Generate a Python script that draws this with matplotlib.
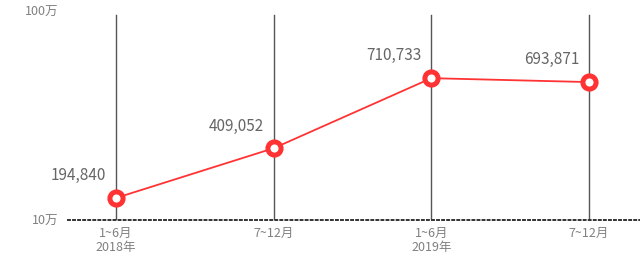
#!/usr/bin/env python3
"""Half-yearly counts 2018-2019, red ring markers on a light frame."""

import matplotlib

matplotlib.use("Agg")
import matplotlib.pyplot as plt
from matplotlib.ticker import FixedLocator

PERIODS = ["1~6月\n2018年", "7~12月", "1~6月\n2019年", "7~12月"]
VALUES = [194840, 409052, 710733, 693871]
Y_TICKS = [100000, 1000000]
Y_TICK_LABELS = ["10万", "100万"]

RED = "#ff3333"
GREY_TEXT = "#808080"

plt.rcParams["font.family"] = ["Noto Sans CJK JP", "DejaVu Sans"]

fig = plt.figure(figsize=(6.4, 2.64), dpi=100)
W, H = 640, 264
# axes box in pixels: left 68, right 640, top 11, bottom 220
ax = fig.add_axes([68 / W, (H - 220) / H, (640 - 68) / W, (220 - 11) / H])

x = list(range(len(VALUES)))

ax.set_xlim(-0.304, 3.323)
ax.set_ylim(Y_TICKS[0], Y_TICKS[1])

# vertical guide lines
for xi in x:
    ax.axvline(xi, ymin=0, ymax=0.98, color="#555555", linewidth=1.0, zorder=1)

ax.plot(
    x,
    VALUES,
    color=RED,
    linewidth=1.3,
    marker="o",
    markersize=9.5,
    markerfacecolor="white",
    markeredgecolor=RED,
    markeredgewidth=3.6,
    zorder=3,
    clip_on=False,
)

for xi, v in zip(x, VALUES):
    ax.annotate(
        f"{v:,}",
        (xi, v),
        xytext=(-7, 16),
        textcoords="offset points",
        ha="right",
        va="center",
        fontsize=11,
        color="#666666",
    )

for side in ("top", "right", "left"):
    ax.spines[side].set_visible(False)
ax.spines["bottom"].set_linestyle((0, (1, 1.6)))
ax.spines["bottom"].set_color("#333333")
ax.spines["bottom"].set_linewidth(1.4)

ax.set_xticks(x)
ax.set_xticklabels(PERIODS, fontsize=9, color=GREY_TEXT, linespacing=1.1)
ax.yaxis.set_major_locator(FixedLocator(Y_TICKS))
ax.set_yticklabels(Y_TICK_LABELS, fontsize=9, color=GREY_TEXT)
ax.tick_params(axis="x", length=0, pad=5)
ax.tick_params(axis="y", length=0, pad=7)

fig.savefig("out.png", dpi=100, facecolor="white")
